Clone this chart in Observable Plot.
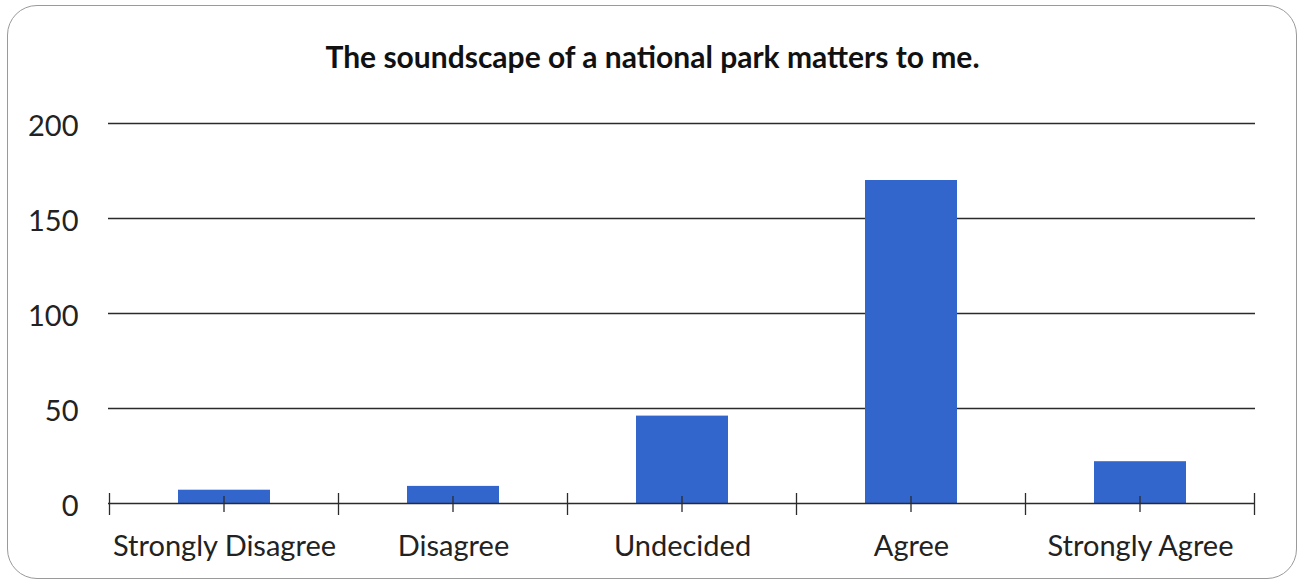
<!DOCTYPE html>
<html>
<head>
<meta charset="utf-8">
<script src="https://cdn.jsdelivr.net/npm/d3@7"></script>
<script src="https://cdn.jsdelivr.net/npm/@observablehq/plot@0.6"></script>
<style>
  body { margin: 0; background: #fff; }
  #wrap { position: relative; width: 1299px; height: 582px; overflow: hidden; font-family: Lato, "Open Sans", sans-serif; }
  #frame { position: absolute; left: 7px; top: 5px; width: 1290px; height: 574px; box-sizing: border-box;
           border: 1.5px solid #9a9a9a; border-radius: 30px; }
  #title { position: absolute; left: 3px; top: 41px; width: 1299px; text-align: center;
           font-weight: bold; font-size: 30px; line-height: 1; color: #111; }
  #chart { position: absolute; left: 0; top: 0; }
</style>
</head>
<body>
<div id="wrap">
  <div id="frame"></div>
  <div id="title">The soundscape of a national park matters to me.</div>
  <div id="chart"></div>
</div>
<script>
// Survey responses per answer
const categories = ["Strongly Disagree", "Disagree", "Undecided", "Agree", "Strongly Agree"];
const counts = [7, 9, 46, 170, 22];
const yTicks = [0, 50, 100, 150, 200];

const rows = categories.map((category, i) => ({category, count: counts[i]}));

const lineColor = "#2b2b2b";

// Tick marks on the category axis: one at each band centre, one at each band edge
function categoryTicks(index, scales) {
  const x = scales.x;
  const y0 = scales.y(0);
  const bw = typeof x.bandwidth === "function" ? x.bandwidth()
           : (scales.scales && scales.scales.x ? scales.scales.x.bandwidth : 0);
  const step = x(categories[1]) - x(categories[0]);
  const g = d3.create("svg:g").attr("stroke", lineColor).attr("stroke-width", 1.3);
  const centres = categories.map(c => x(c) + bw / 2);
  for (const cx of centres) {
    g.append("line").attr("x1", cx).attr("x2", cx).attr("y1", y0 - 7).attr("y2", y0 + 9);
  }
  const edges = centres.map(cx => cx - step / 2);
  edges.push(centres[centres.length - 1] + step / 2);
  for (const ex of edges) {
    g.append("line").attr("x1", ex).attr("x2", ex).attr("y1", y0 - 10).attr("y2", y0 + 12);
  }
  return g.node();
}

const chart = Plot.plot({
  width: 1299,
  height: 582,
  marginTop: 123,
  marginBottom: 79,
  marginLeft: 108,
  marginRight: 44,
  style: {fontFamily: "Lato, 'Open Sans', sans-serif", color: "#222", background: "transparent", overflow: "visible"},
  x: {type: "band", domain: categories, paddingInner: 0.6, paddingOuter: 0.3, axis: null},
  y: {domain: [0, 200], axis: null},
  marks: [
    Plot.ruleY(yTicks.filter(v => v > 0), {stroke: lineColor, strokeWidth: 1.3}),
    Plot.barY(rows, {x: "category", y: "count", fill: "#3366CC"}),
    Plot.ruleY([0], {stroke: lineColor, strokeWidth: 1.3}),
    categoryTicks,
    Plot.axisY(yTicks, {tickSize: 0, tickPadding: 30, fontSize: 29, dy: 3, label: null}),
    Plot.axisX({tickSize: 0, tickPadding: 32, fontSize: 29, label: null})
  ]
});

document.getElementById("chart").append(chart);
</script>
</body>
</html>
